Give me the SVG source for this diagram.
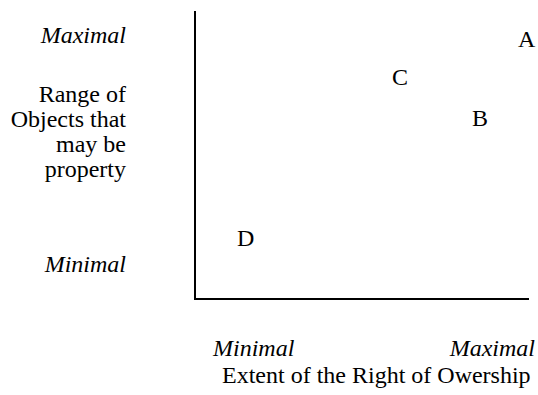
<svg xmlns="http://www.w3.org/2000/svg" width="538" height="395" viewBox="0 0 538 395">
<defs>
<style>
text { font-family: "Liberation Serif", "Times New Roman", serif; font-size: 24px; fill: #000; }
.it { font-style: italic; }
.r { text-anchor: end; }
.axis { stroke: #000; stroke-width: 2; fill: none; }
</style>
</defs>
<rect width="538" height="395" fill="#fff"/>
<g id="axes">
<path class="axis" d="M195,11 V299 H529"/>
</g>
<g id="y-labels">
<text class="it r" x="126" y="43">Maximal</text>
<text class="r" x="126" y="102">Range of</text>
<text class="r" x="126" y="127">Objects that</text>
<text class="r" x="126" y="152">may be</text>
<text class="r" x="126" y="177">property</text>
<text class="it r" x="126" y="272">Minimal</text>
</g>
<g id="x-labels">
<text class="it" x="213" y="356">Minimal</text>
<text class="it r" x="535" y="356">Maximal</text>
<text x="222" y="383">Extent of the Right of Owership</text>
</g>
<g id="A"><text x="518" y="47">A</text></g>
<g id="B"><text x="472" y="126">B</text></g>
<g id="C"><text x="392" y="85">C</text></g>
<g id="D"><text x="237" y="246">D</text></g>
</svg>
